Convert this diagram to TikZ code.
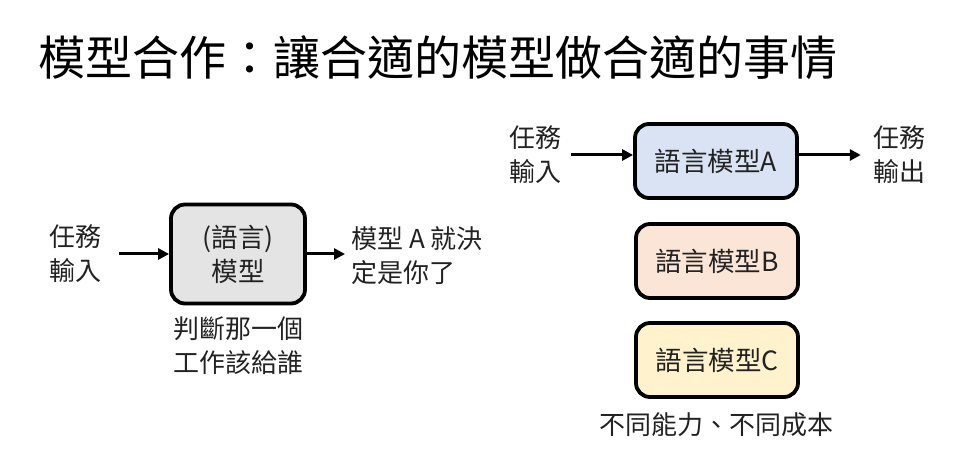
\documentclass[tikz,border=0pt]{standalone}
\usepackage{fontspec}
\setmainfont{Noto Sans CJK TC}
\usetikzlibrary{arrows.meta}
\definecolor{boxgray}{HTML}{E4E4E4}
\definecolor{boxblue}{HTML}{DAE3F3}
\definecolor{boxpink}{HTML}{FBE5D6}
\definecolor{boxyellow}{HTML}{FFF2CC}
\definecolor{ink}{HTML}{222222}
\tikzset{
  model/.style={draw=black, line width=3.8pt, rounded corners=14pt, minimum width=162pt, minimum height=74pt, font=\fontsize{26.5}{34}\selectfont, text=ink},
  lbl/.style={font=\fontsize{26}{34}\selectfont, align=center, text=ink, inner sep=0pt},
  conn/.style={line width=3pt, -{Triangle[length=11pt,width=11pt]}}
}
\begin{document}
\begin{tikzpicture}[x=1pt,y=-1pt]
\useasboundingbox (0,0) rectangle (962,473);
\node[font=\fontsize{47}{50}\selectfont, anchor=west, inner sep=0pt] (title) at (38,58) {模型合作：讓合適的模型做合適的事情};
% left part
\node[model, fill=boxgray, minimum width=134pt, minimum height=99pt, align=center] (router) at (238,254) {(語言)\\模型};
\node[lbl] (lin) at (75,254) {任務\\輸入};
\node[lbl, align=left, anchor=west] (lout) at (351,256) {模型 A 就決\\定是你了};
\node[lbl] (lnote) at (238,346) {判斷那一個\\工作該給誰};
\draw[conn] ([xshift=18pt]lin.east) -- (router.west);
\draw[conn] (router.east) -- ([xshift=-6pt]lout.west |- router.east);
% right part
\node[model, fill=boxblue] (A) at (716,161) {語言模型A};
\node[model, fill=boxpink] (B) at (717,261) {語言模型B};
\node[model, fill=boxyellow] (C) at (717,360) {語言模型C};
\node[lbl] (rin) at (535,155) {任務\\輸入};
\node[lbl] (rout) at (899,155) {任務\\輸出};
\node[lbl] (rnote) at (716,425) {不同能力、不同成本};
\coordinate (rinE) at ([xshift=10pt]rin.east);
\coordinate (routW) at ([xshift=-12pt]rout.west);
\draw[conn] (rinE) -- (A.west |- rinE);
\draw[conn] (A.east |- rinE) -- (routW);
\end{tikzpicture}
\end{document}
